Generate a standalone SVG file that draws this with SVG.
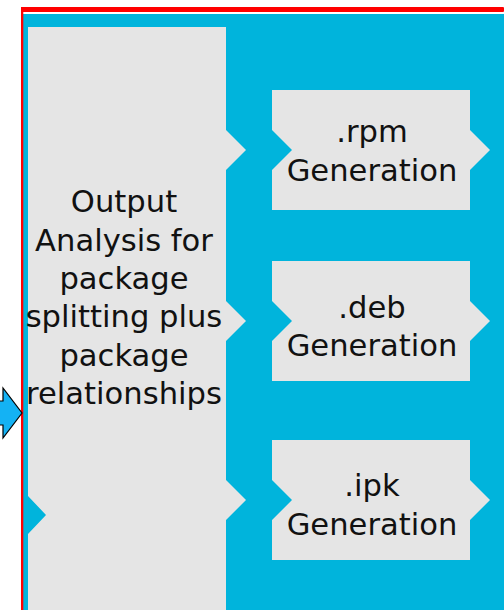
<svg xmlns="http://www.w3.org/2000/svg" width="504" height="610" viewBox="0 0 504 610">
  <style>
    .frame { fill: #ff0000; }
    .panel { fill: #00b4dc; }
    .block { fill: #e5e5e5; }
    .label { font-family: "DejaVu Sans", "Liberation Sans", sans-serif; font-size: 30.6px; fill: #111111; text-anchor: middle; }
    .feed { fill: #14b2f4; stroke: #000000; stroke-width: 1.2; stroke-linejoin: miter; }
  </style>
  <rect width="504" height="610" fill="#ffffff"/>

  <!-- outer frame and panel -->
  <g id="container">
    <rect class="panel" x="23" y="14" width="490" height="606"/>
    <rect class="frame" x="21" y="7" width="483" height="5" rx="1"/>
    <rect class="frame" x="21" y="7" width="2.3" height="603"/>
  </g>

  <!-- analysis stage -->
  <g id="output-analysis">
    <path class="block" d="M28,27 H226 V130 L246,150 L226,170 V301 L246,321 L226,341 V480 L246,500 L226,520 V620 H28 V534 L46,515 L28,496 Z"/>
    <text class="label" x="124" y="212">Output</text>
    <text class="label" x="124" y="250.5">Analysis for</text>
    <text class="label" x="124" y="289">package</text>
    <text class="label" x="124" y="327">splitting plus</text>
    <text class="label" x="124" y="365.5">package</text>
    <text class="label" x="124" y="404">relationships</text>
  </g>

  <!-- package generation stages -->
  <g id="rpm-generation">
    <path class="block" d="M272,90 H470 V130 L490,150 L470,170 V210 H272 V170 L292,150 L272,130 Z"/>
    <text class="label" x="372" y="142">.rpm</text>
    <text class="label" x="372" y="181">Generation</text>
  </g>
  <g id="deb-generation">
    <path class="block" d="M272,261 H470 V301 L490,321 L470,341 V381 H272 V341 L292,321 L272,301 Z"/>
    <text class="label" x="372" y="318">.deb</text>
    <text class="label" x="372" y="356">Generation</text>
  </g>
  <g id="ipk-generation">
    <path class="block" d="M272,440 H470 V480 L490,500 L470,520 V560 H272 V520 L292,500 L272,480 Z"/>
    <text class="label" x="372" y="496">.ipk</text>
    <text class="label" x="372" y="535">Generation</text>
  </g>

  <!-- incoming flow -->
  <g id="connectors">
    <path class="feed" d="M-10,401 H3 V388 L22,413 L3,438 V425 H-10 Z"/>
  </g>
</svg>
